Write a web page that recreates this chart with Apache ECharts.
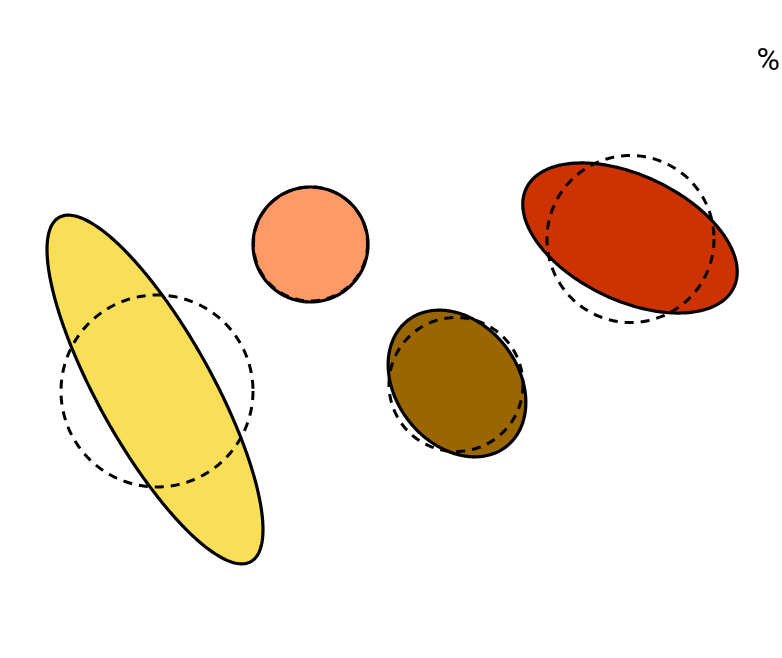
<!DOCTYPE html>
<html>
<head>
<meta charset="utf-8">
<script src="https://cdn.jsdelivr.net/npm/echarts@6/dist/echarts.min.js"></script>
<style>html,body{margin:0;padding:0;background:#fff;}#c{width:782px;height:658px;}</style>
</head>
<body>
<div id="c"></div>
<script>
// Fitted ellipses (filled) and original circles (dashed), in plot units
const setNames   = ['A', 'B', 'C', 'D'];
const ellipseX   = [155, 310.5, 457, 630];
const ellipseY   = [389.5, 244.5, 383.5, 238];
const semiMajor  = [197, 57.5, 80, 115];
const semiMinor  = [57, 57.5, 61, 62.5];
const rotation   = [60.9, 0, 51.9, 25.5];
const circleX    = [157, 310.5, 456, 630.5];
const circleY    = [391, 244, 384.5, 239];
const circleR    = [96, 57, 67, 83.5];
const legendTitle = '%';

const fills = ['#F9DE57', '#FF9966', '#996600', '#CC3300'];

const ellipseData = setNames.map((n, i) => [ellipseX[i], ellipseY[i], semiMajor[i], semiMinor[i], rotation[i], i]);
const circleData = setNames.map((n, i) => [circleX[i], circleY[i], circleR[i], i]);

function ellipsePoints(api, cx, cy, a, b, deg) {
  const th = deg * Math.PI / 180, pts = [];
  for (let k = 0; k < 360; k++) {
    const t = k * Math.PI / 180;
    const x = cx + a * Math.cos(t) * Math.cos(th) - b * Math.sin(t) * Math.sin(th);
    const y = cy + a * Math.cos(t) * Math.sin(th) + b * Math.sin(t) * Math.cos(th);
    pts.push(api.coord([x, y]));
  }
  return pts;
}

const chart = echarts.init(document.getElementById('c'), null, {renderer: 'canvas'});
chart.setOption({
  animation: false,
  backgroundColor: '#fff',
  title: {
    text: legendTitle, right: 2, top: 46, padding: 0,
    textStyle: {fontFamily: 'Roboto', fontSize: 32, fontWeight: 'normal', color: '#000'}
  },
  grid: {left: 0, top: 0, width: 782, height: 658},
  xAxis: {type: 'value', min: 0, max: 782, show: false},
  yAxis: {type: 'value', min: 0, max: 658, inverse: true, show: false},
  series: [
    {
      type: 'custom',
      z: 1,
      data: ellipseData,
      renderItem: function (params, api) {
        const i = api.value(5);
        return {
          type: 'polygon',
          shape: {points: ellipsePoints(api, api.value(0), api.value(1), api.value(2), api.value(3), api.value(4))},
          style: {fill: fills[i], stroke: '#000', lineWidth: 3.2}
        };
      }
    },
    {
      type: 'custom',
      z: 2,
      data: circleData,
      renderItem: function (params, api) {
        return {
          type: 'polygon',
          shape: {points: ellipsePoints(api, api.value(0), api.value(1), api.value(2), api.value(2), 0)},
          style: {fill: 'none', stroke: '#000', lineWidth: 3, lineDash: [9, 7]}
        };
      }
    }
  ]
});
</script>
</body>
</html>
